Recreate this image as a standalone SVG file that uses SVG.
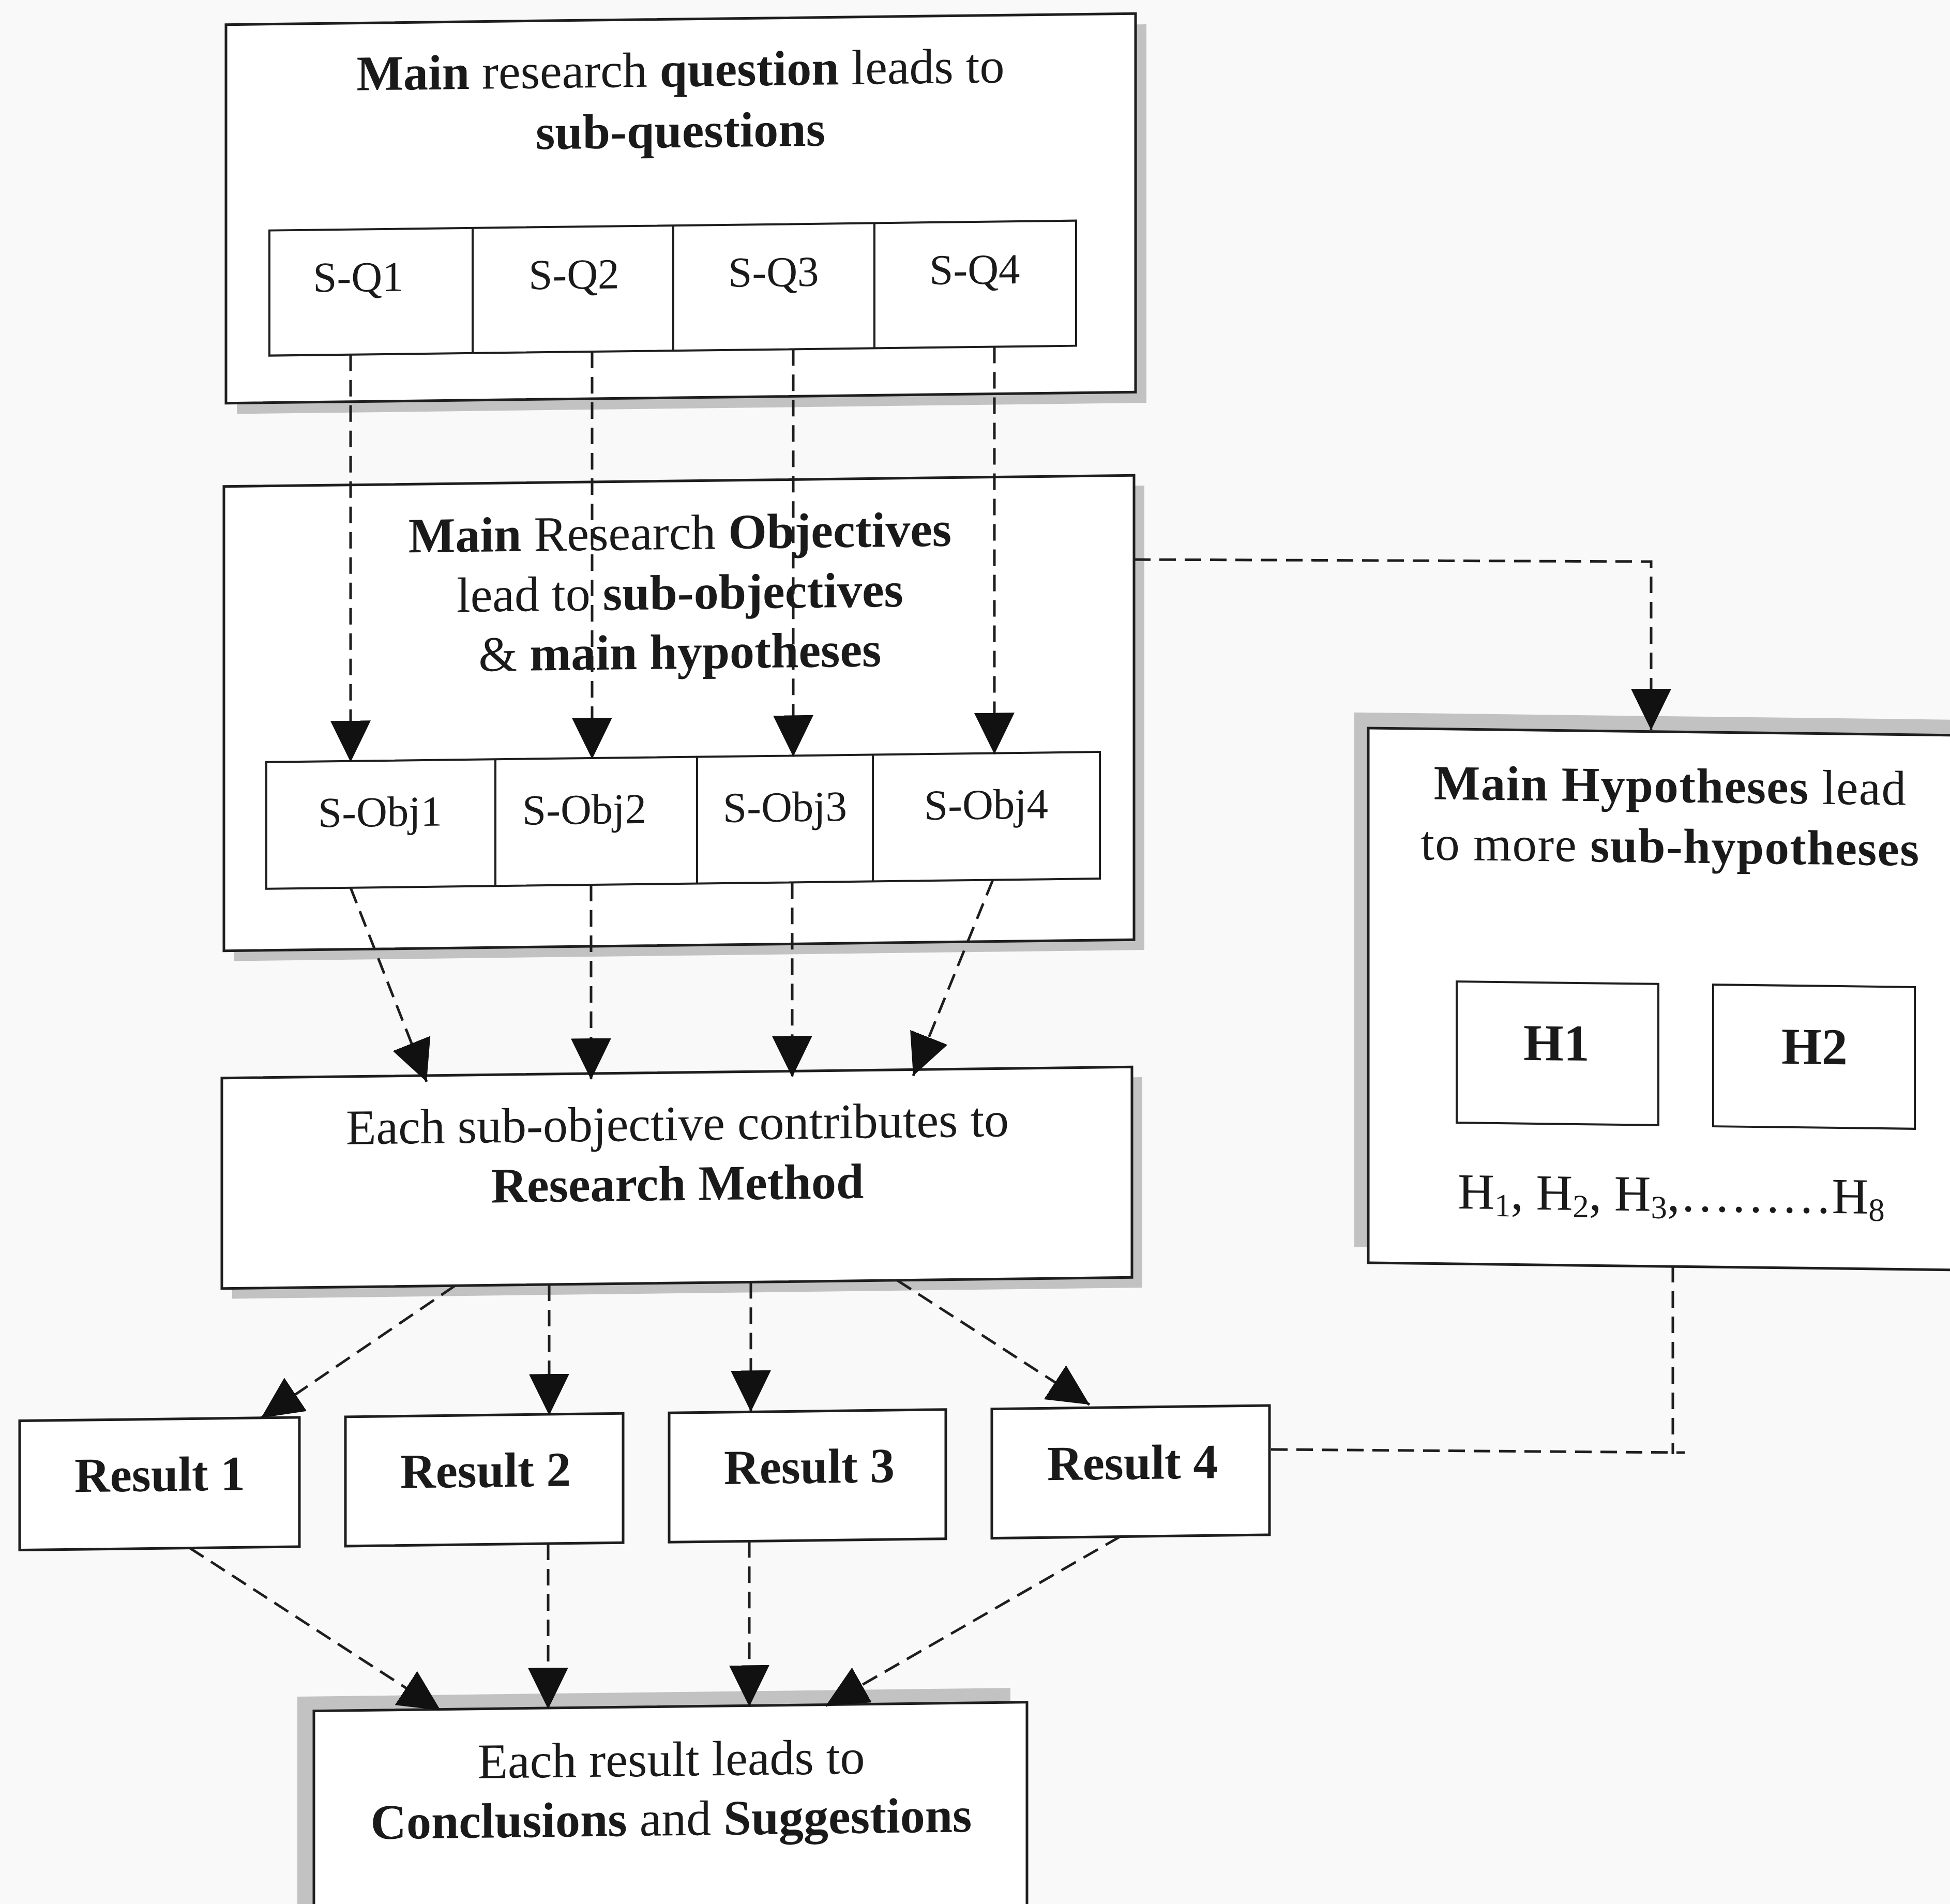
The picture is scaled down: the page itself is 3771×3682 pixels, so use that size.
<svg xmlns="http://www.w3.org/2000/svg" width="3771" height="3682" viewBox="0 0 3771 3682">
  <defs>
    <style>
      .box { fill: #ffffff; stroke: #1e1e1e; stroke-width: 5; }
      .cell { fill: #ffffff; stroke: #1e1e1e; stroke-width: 4; }
      .rule { stroke: #1e1e1e; stroke-width: 4; }
      .shadow { fill: #c2c2c2; }
      .t { font-family: "Liberation Serif", "Times New Roman", serif; fill: #1a1a1a; text-anchor: middle; }
      .title { font-size: 96px; }
      .small { font-size: 83px; }
      .res { font-size: 95px; font-weight: bold; }
      .b { font-weight: bold; }
      .dash { fill: none; stroke: #1e1e1e; stroke-width: 5; stroke-dasharray: 32 17; }
    </style>
    <marker id="head" viewBox="0 0 80 78" refX="80" refY="39" markerWidth="80" markerHeight="78" markerUnits="userSpaceOnUse" orient="auto">
      <path d="M0,0 L80,39 L0,78 Z" fill="#111111" stroke="none"/>
    </marker>
  </defs>

  <rect x="0" y="0" width="3771" height="3682" fill="#f9f9f9"/>

  <!-- main column, slightly sheared as on the page -->
  <g id="main-column" transform="matrix(1,-0.0122,0,1,0,0)">

    <g id="node-question">
      <rect class="shadow" x="458" y="74" width="1759" height="732"/>
      <rect class="box" x="437" y="53" width="1759" height="732"/>
      <text class="t title" x="1316" y="183"><tspan class="b">Main</tspan> research <tspan class="b">question</tspan> leads to</text>
      <text class="t title b" x="1316" y="301">sub-questions</text>
    </g>

    <g id="node-subquestions">
      <rect class="cell" x="521" y="452" width="1560" height="242"/>
      <line class="rule" x1="914" y1="452" x2="914" y2="694"/>
      <line class="rule" x1="1302" y1="452" x2="1302" y2="694"/>
      <line class="rule" x1="1691" y1="452" x2="1691" y2="694"/>
      <text class="t small" x="693" y="572">S-Q1</text>
      <text class="t small" x="1110" y="572">S-Q2</text>
      <text class="t small" x="1496" y="572">S-Q3</text>
      <text class="t small" x="1885" y="572">S-Q4</text>
    </g>

    <g id="node-objectives">
      <rect class="shadow" x="453" y="966" width="1760" height="898"/>
      <rect class="box" x="433" y="946" width="1760" height="898"/>
      <text class="t title" x="1315" y="1078"><tspan class="b">Main</tspan> Research <tspan class="b">Objectives</tspan></text>
      <text class="t title" x="1315" y="1194">lead to <tspan class="b">sub-objectives</tspan></text>
      <text class="t title" x="1315" y="1309">&amp; <tspan class="b">main hypotheses</tspan></text>
    </g>

    <g id="node-subobjectives">
      <rect class="cell" x="515" y="1480" width="1612" height="245"/>
      <line class="rule" x1="958" y1="1480" x2="958" y2="1725"/>
      <line class="rule" x1="1348" y1="1480" x2="1348" y2="1725"/>
      <line class="rule" x1="1688" y1="1480" x2="1688" y2="1725"/>
      <text class="t small" x="735" y="1607">S-Obj1</text>
      <text class="t small" x="1130" y="1607">S-Obj2</text>
      <text class="t small" x="1518" y="1607">S-Obj3</text>
      <text class="t small" x="1907" y="1607">S-Obj4</text>
    </g>

    <g id="node-method">
      <rect class="shadow" x="449" y="2110" width="1760" height="407"/>
      <rect class="box" x="429" y="2090" width="1760" height="407"/>
      <text class="t title" x="1310" y="2221">Each sub-objective contributes to</text>
      <text class="t title b" x="1310" y="2337">Research Method</text>
    </g>

    <g id="node-result1">
      <rect class="box" x="38" y="2748" width="541" height="250"/>
      <text class="t res" x="309" y="2887">Result 1</text>
    </g>
    <g id="node-result2">
      <rect class="box" x="668" y="2748" width="537" height="250"/>
      <text class="t res" x="939" y="2887">Result 2</text>
    </g>
    <g id="node-result3">
      <rect class="box" x="1294" y="2748" width="535" height="250"/>
      <text class="t res" x="1565" y="2887">Result 3</text>
    </g>
    <g id="node-result4">
      <rect class="box" x="1918" y="2748" width="537" height="250"/>
      <text class="t res" x="2190" y="2887">Result 4</text>
    </g>

    <g id="node-conclusions">
      <rect class="shadow" x="575" y="3288" width="1379" height="500"/>
      <rect class="box" x="607" y="3316" width="1379" height="500"/>
      <text class="t title" x="1298" y="3450">Each result leads to</text>
      <text class="t title" x="1298" y="3565"><tspan class="b">Conclusions</tspan> and <tspan class="b">Suggestions</tspan></text>
    </g>

    <g id="connectors">
      <path class="dash" d="M678,694 V1482" marker-end="url(#head)"/>
      <path class="dash" d="M1145,694 V1482" marker-end="url(#head)"/>
      <path class="dash" d="M1534,694 V1482" marker-end="url(#head)"/>
      <path class="dash" d="M1923,694 V1482" marker-end="url(#head)"/>
      <path class="dash" d="M678,1725 L825,2102" marker-end="url(#head)"/>
      <path class="dash" d="M1143,1725 V2102" marker-end="url(#head)"/>
      <path class="dash" d="M1532,1725 V2102" marker-end="url(#head)"/>
      <path class="dash" d="M1920,1725 L1766,2102" marker-end="url(#head)"/>
      <path class="dash" d="M880,2497 L505,2748" marker-end="url(#head)"/>
      <path class="dash" d="M1062,2497 V2750" marker-end="url(#head)"/>
      <path class="dash" d="M1452,2497 V2748" marker-end="url(#head)"/>
      <path class="dash" d="M1735,2497 L2107,2742" marker-end="url(#head)"/>
      <path class="dash" d="M367,2998 L852,3318" marker-end="url(#head)"/>
      <path class="dash" d="M1060,2998 V3318" marker-end="url(#head)"/>
      <path class="dash" d="M1449,2998 V3318" marker-end="url(#head)"/>
      <path class="dash" d="M2166,2998 L1597,3318" marker-end="url(#head)"/>
    </g>
  </g>

  <!-- hypotheses panel, sheared the other way -->
  <g id="node-hypotheses" transform="matrix(1,0.0122,0,1,0,-32.3)">
    <rect class="shadow" x="2619" y="1378" width="1200" height="1034"/>
    <rect class="box" x="2646" y="1408" width="1200" height="1034"/>
    <text class="t title" x="3230" y="1544" style="font-size:95px;letter-spacing:1.4px"><tspan class="b">Main Hypotheses</tspan> lead</text>
    <text class="t title" x="3230" y="1661" style="font-size:95px;letter-spacing:1.4px">to more <tspan class="b">sub-hypotheses</tspan></text>
    <g id="node-h1">
      <rect class="cell" x="2817" y="1896" width="390" height="273"/>
      <text class="t b" x="3010" y="2046" style="font-size:100px">H1</text>
    </g>
    <g id="node-h2">
      <rect class="cell" x="3313" y="1896" width="390" height="274"/>
      <text class="t b" x="3509" y="2047" style="font-size:100px">H2</text>
    </g>
    <text class="t title" x="3232" y="2335" style="font-size:98px">H<tspan font-size="63" dy="14">1</tspan><tspan dy="-14">, H</tspan><tspan font-size="63" dy="14">2</tspan><tspan dy="-14">, H</tspan><tspan font-size="63" dy="14">3</tspan><tspan dy="-14">,………H</tspan><tspan font-size="63" dy="14">8</tspan></text>
  </g>

  <g id="connectors-side">
    <path class="dash" d="M2193,1082 L3193,1086 L3193,1412" marker-end="url(#head)"/>
    <path class="dash" d="M3235,2448 V2812"/>
    <path class="dash" d="M2458,2803 L3258,2809"/>
  </g>
</svg>
